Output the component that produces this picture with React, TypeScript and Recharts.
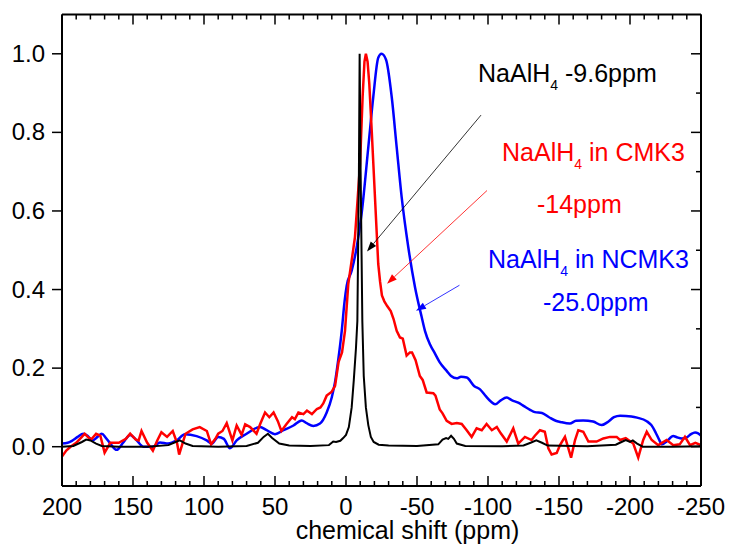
import React from "react";
import { LineChart, Line, XAxis, YAxis, ReferenceLine, ReferenceDot, Label } from "recharts";

// NaAlH4 (black)
const blackShift = [200, 192, 186, 183, 180, 176, 172, 160, 140, 125, 120, 117, 113, 108, 90, 70, 62, 58, 55, 52, 47, 40, 25, 12, 9, 7, 4, 2, 0, -2, -4, -5.5, -7, -8, -9.1, -9.6, -10.3, -11.5, -12.5, -14, -15.7, -17.5, -19.5, -23, -30, -50, -65, -68, -70.5, -72, -74, -76, -78, -84, -110, -125, -130, -134, -138, -142, -170, -190, -194, -197, -200, -202, -205, -209, -230, -250];
const blackIntensity = [0, 0.002, 0.012, 0.018, 0.016, 0.008, 0.002, 0, 0, 0.004, 0.012, 0.016, 0.008, 0.002, 0, 0.002, 0.01, 0.025, 0.033, 0.022, 0.008, 0.003, 0.002, 0.004, 0.013, 0.012, 0.015, 0.022, 0.03, 0.05, 0.1, 0.17, 0.25, 0.32, 0.7, 1.0, 0.7, 0.32, 0.18, 0.1, 0.055, 0.025, 0.012, 0.005, 0.003, 0.002, 0.006, 0.018, 0.022, 0.02, 0.028, 0.02, 0.008, 0.002, 0.001, 0.003, 0.01, 0.016, 0.01, 0.003, 0.001, 0.005, 0.012, 0.017, 0.012, 0.016, 0.008, 0, 0, 0.001];

// NaAlH4 in CMK3 (red)
const redShift = [200, 197, 194, 190, 186, 184, 181, 179, 176, 173, 170, 166, 160, 155, 152, 148, 146, 144, 140, 136, 133, 130, 126, 122, 119, 117.5, 115, 113, 108, 103, 98, 95, 92, 90, 87, 84, 80, 77, 73.5, 71, 67.5, 63, 60.5, 57, 54, 51, 48, 45.5, 42, 38, 36, 33.5, 30, 27.5, 24, 20.5, 18, 16, 13.6, 10, 7.7, 5.2, 2.8, 0.7, -1.6, -4, -6.3, -8, -9.9, -11.7, -13, -14, -15.2, -16.4, -18.1, -20.4, -22.7, -24, -25.3, -27, -29, -31.5, -33.5, -35.7, -38, -40, -42.7, -45, -46.5, -49, -52, -54, -56.8, -61.5, -63, -66, -68, -70.9, -74.4, -78, -81.5, -85, -88.5, -92, -95.6, -99, -102.7, -106.2, -109, -113.2, -117.8, -121.3, -126, -130.7, -133, -136.6, -140, -142.5, -144.8, -148.4, -150.7, -154.2, -156.6, -158.5, -161.3, -163.6, -167.1, -170.7, -176.5, -181.2, -185.9, -190.6, -193, -197, -202.3, -205.8, -209.3, -211.8, -215.3, -219.9, -225.8, -230.5, -235, -238.7, -242.3, -246, -250];
const redIntensity = [-0.025, -0.01, 0, 0.01, 0.025, 0.033, 0.022, 0.02, 0.033, 0.028, -0.015, 0.01, 0.01, 0.02, 0.033, 0.018, 0.016, 0.04, 0.01, -0.01, 0.015, 0.037, 0.025, 0.04, 0.01, -0.02, 0.01, 0.033, 0.044, 0.05, 0.04, 0.006, 0.02, 0.033, 0.04, 0.06, 0.016, 0.054, 0.03, 0.057, 0.05, 0.033, 0.057, 0.087, 0.075, 0.087, 0.065, 0.04, 0.057, 0.075, 0.07, 0.087, 0.083, 0.092, 0.083, 0.096, 0.1, 0.11, 0.13, 0.14, 0.155, 0.216, 0.24, 0.295, 0.414, 0.474, 0.533, 0.62, 0.72, 0.89, 0.98, 1.0, 0.98, 0.924, 0.805, 0.635, 0.465, 0.42, 0.385, 0.37, 0.358, 0.345, 0.325, 0.295, 0.278, 0.275, 0.232, 0.24, 0.24, 0.22, 0.18, 0.17, 0.138, 0.136, 0.13, 0.095, 0.085, 0.066, 0.058, 0.06, 0.058, 0.042, 0.025, 0.047, 0.042, 0.058, 0.042, 0.05, 0.034, 0.013, 0.047, 0.008, 0.025, 0.017, 0.028, 0.042, 0.038, -0.004, -0.02, -0.016, 0.004, 0.025, -0.004, -0.028, 0.017, 0.042, 0.038, 0.013, 0.013, 0.021, 0.025, 0.025, 0.017, 0.022, 0.008, -0.028, 0.017, 0.038, 0.017, 0.004, 0.017, 0.004, 0.006, 0.025, 0.004, 0.01, 0.004];

// NaAlH4 in NCMK3 (blue)
const blueShift = [200, 196, 193, 189, 185, 182, 178.5, 175, 172, 169, 166, 161.5, 156.8, 152, 147.4, 142.7, 136, 131, 125.3, 119.3, 113.4, 105.2, 98.1, 94.6, 90, 86, 81.7, 77, 70, 63, 60.6, 55.9, 50, 44, 37, 31.2, 27.7, 23, 18.3, 13.6, 10, 7.7, 5.5, 3, 1, -0.5, -4, -7.5, -11, -15.7, -19.2, -22.7, -25, -28.2, -32.2, -35.7, -39.2, -43.9, -48.6, -53.3, -55.6, -59.2, -62.5, -65.8, -70.9, -74, -78, -81, -85, -90.4, -94.4, -98.6, -102, -105, -109, -113, -117, -121.3, -125, -129.6, -133, -138, -143, -147.7, -151, -157.6, -162, -167, -174, -180, -184, -188.7, -193, -201, -205, -211.8, -215, -218.2, -220.5, -222.5, -226, -230.5, -233, -236.4, -240, -243, -245.8, -248, -250];
const blueIntensity = [0.008, 0.01, 0.015, 0.025, 0.033, 0.028, 0.016, 0.025, 0.033, 0.022, 0.008, -0.008, 0.011, 0.03, 0.016, 0, 0, 0.011, 0.008, 0.016, 0.032, 0.027, 0.016, 0.008, 0.025, 0.02, -0.004, 0.016, 0.033, 0.048, 0.05, 0.042, 0.032, 0.042, 0.054, 0.067, 0.06, 0.053, 0.059, 0.087, 0.126, 0.165, 0.22, 0.295, 0.37, 0.41, 0.448, 0.507, 0.593, 0.762, 0.89, 0.99, 1.0, 0.985, 0.89, 0.762, 0.635, 0.507, 0.406, 0.33, 0.295, 0.26, 0.238, 0.216, 0.193, 0.18, 0.174, 0.178, 0.176, 0.154, 0.146, 0.128, 0.115, 0.108, 0.118, 0.125, 0.118, 0.112, 0.104, 0.094, 0.088, 0.086, 0.075, 0.066, 0.063, 0.059, 0.066, 0.067, 0.064, 0.055, 0.062, 0.075, 0.079, 0.077, 0.074, 0.065, 0.055, 0.035, 0.018, 0.006, 0.014, 0.027, 0.024, 0.021, 0.024, 0.032, 0.036, 0.034, 0.028];

const xTicks = [200, 190, 180, 170, 160, 150, 140, 130, 120, 110, 100, 90, 80, 70, 60, 50, 40, 30, 20, 10, 0, -10, -20, -30, -40, -50, -60, -70, -80, -90, -100, -110, -120, -130, -140, -150, -160, -170, -180, -190, -200, -210, -220, -230, -240, -250];
const yTicksLeft = [0, 0.2, 0.4, 0.6, 0.8, 1.0];
const yTicksRight = [0, 0.1, 0.2, 0.3, 0.4, 0.5, 0.6, 0.7, 0.8, 0.9, 1.0];

const xTitle = "chemical shift (ppm)";

const annotations = [
  { x: -93, y: 0.929, color: "#000000", main: "NaAlH", sub: "4", tail: " -9.6ppm" },
  { x: -109.9, y: 0.726, color: "#ff0000", main: "NaAlH", sub: "4", tail: " in CMK3" },
  { x: -134.5, y: 0.596, color: "#ff0000", main: "-14ppm", sub: "", tail: "" },
  { x: -100, y: 0.456, color: "#0000ff", main: "NaAlH", sub: "4", tail: " in NCMK3" },
  { x: -138.7, y: 0.346, color: "#0000ff", main: "-25.0ppm", sub: "", tail: "" },
];

const arrows = [
  { from: { x: -95.1, y: 0.844 }, to: { x: -14.8, y: 0.497 }, color: "#000000" },
  { from: { x: -99.3, y: 0.652 }, to: { x: -28.9, y: 0.415 }, color: "#ff0000" },
  { from: { x: -79.9, y: 0.411 }, to: { x: -49.3, y: 0.346 }, color: "#0000ff" },
];

const toData = (xs: number[], ys: number[]) => xs.map((x, i) => ({ x, y: ys[i] }));
const blackData = toData(blackShift, blackIntensity);
const redData = toData(redShift, redIntensity);
const blueData = toData(blueShift, blueIntensity);

const FONT = "'Liberation Sans', Arial, sans-serif";

const BottomTick = (props: any) => {
  const { x, y, payload } = props;
  const v = payload.value;
  const major = Math.round(v) % 50 === 0;
  return (
    <g>
      <line x1={x} x2={x} y1={y} y2={y - (major ? 10 : 5)} stroke="#000" strokeWidth={1.5} />
      {major && (
        <text x={x} y={y + 29} textAnchor="middle" fontFamily={FONT} fontSize={24} fill="#000">
          {v}
        </text>
      )}
    </g>
  );
};

const TopTick = (props: any) => {
  const { x, y, payload } = props;
  const major = Math.round(payload.value) % 50 === 0;
  return <line x1={x} x2={x} y1={y} y2={y + (major ? 10 : 5)} stroke="#000" strokeWidth={1.5} />;
};

const LeftTick = (props: any) => {
  const { x, y, payload } = props;
  return (
    <g>
      <line x1={x} x2={x - 10} y1={y} y2={y} stroke="#000" strokeWidth={1.5} />
      <text x={x - 17} y={y + 8} textAnchor="end" fontFamily={FONT} fontSize={24} fill="#000">
        {Number(payload.value).toFixed(1)}
      </text>
    </g>
  );
};

const RightTick = (props: any) => {
  const { x, y, payload } = props;
  const major = Math.round(payload.value * 10) % 2 === 0;
  return <line x1={x} x2={x - (major ? 10 : 5)} y1={y} y2={y} stroke="#000" strokeWidth={1.5} />;
};

const makeArrow = (color: string) => (p: any) => {
  const { x1, y1, x2, y2 } = p;
  const dx = x2 - x1;
  const dy = y2 - y1;
  const len = Math.sqrt(dx * dx + dy * dy) || 1;
  const ux = dx / len;
  const uy = dy / len;
  const hl = 10;
  const hw = 3.5;
  const bx = x2 - ux * hl;
  const by = y2 - uy * hl;
  const pts = `${x2},${y2} ${bx - uy * hw},${by + ux * hw} ${bx + uy * hw},${by - ux * hw}`;
  return (
    <g>
      <line x1={x1} y1={y1} x2={bx} y2={by} stroke={color} strokeWidth={0.8} />
      <polygon points={pts} fill={color} />
    </g>
  );
};

const makeText = (a: any) => (p: any) => {
  const { cx, cy } = p;
  return (
    <text x={cx} y={cy} fill={a.color} fontFamily={FONT} fontSize={25}>
      <tspan>{a.main}</tspan>
      {a.sub && (
        <tspan fontSize={14} dy={8}>
          {a.sub}
        </tspan>
      )}
      {a.tail && <tspan dy={a.sub ? -8 : 0}>{a.tail}</tspan>}
    </text>
  );
};

const XTitle = (props: any) => {
  const { viewBox } = props;
  const cx = viewBox.x + viewBox.width / 2 + 26;
  return (
    <text x={cx} y={viewBox.y + 53} textAnchor="middle" fontFamily={FONT} fontSize={25} fill="#000">
      {xTitle}
    </text>
  );
};

export default function App() {
  return (
    <div style={{ position: "absolute", left: 0, top: 0, background: "#fff" }}>
      <LineChart width={729} height={544} margin={{ top: 13.5, right: 27, bottom: 18, left: 22 }}>
        <XAxis
          xAxisId={0}
          type="number"
          dataKey="x"
          domain={[-250, 200]}
          reversed
          allowDataOverflow
          ticks={xTicks}
          interval={0}
          height={40}
          tickSize={0}
          tickMargin={0}
          tickLine={false}
          tick={<BottomTick />}
          axisLine={{ stroke: "#000", strokeWidth: 2 }}
        >
          <Label content={<XTitle />} />
        </XAxis>
        <XAxis
          xAxisId="top"
          orientation="top"
          type="number"
          dataKey="x"
          domain={[-250, 200]}
          reversed
          allowDataOverflow
          ticks={xTicks}
          interval={0}
          height={1}
          tickSize={0}
          tickMargin={0}
          tickLine={false}
          tick={<TopTick />}
          axisLine={{ stroke: "#000", strokeWidth: 2 }}
        />
        <YAxis
          yAxisId={0}
          type="number"
          domain={[-0.1, 1.1]}
          allowDataOverflow
          ticks={yTicksLeft}
          interval={0}
          width={40}
          tickSize={0}
          tickMargin={0}
          tickLine={false}
          tick={<LeftTick />}
          axisLine={{ stroke: "#000", strokeWidth: 2 }}
        />
        <YAxis
          yAxisId="right"
          orientation="right"
          type="number"
          domain={[-0.1, 1.1]}
          allowDataOverflow
          ticks={yTicksRight}
          interval={0}
          width={1}
          tickSize={0}
          tickMargin={0}
          tickLine={false}
          tick={<RightTick />}
          axisLine={{ stroke: "#000", strokeWidth: 2 }}
        />
        <Line data={blueData} dataKey="y" type="monotone" stroke="#0000ff" strokeWidth={2.5} dot={false} isAnimationActive={false} />
        <Line data={redData} dataKey="y" type="linear" stroke="#ff0000" strokeWidth={2.5} dot={false} isAnimationActive={false} />
        <Line data={blackData} dataKey="y" type="linear" stroke="#000000" strokeWidth={2} dot={false} isAnimationActive={false} />
        {arrows.map((a, i) => (
          <ReferenceLine key={"ar" + i} segment={[a.from, a.to]} shape={makeArrow(a.color)} ifOverflow="visible" />
        ))}
        {annotations.map((a, i) => (
          <ReferenceDot key={"an" + i} x={a.x} y={a.y} r={0} shape={makeText(a)} ifOverflow="visible" />
        ))}
      </LineChart>
    </div>
  );
}
